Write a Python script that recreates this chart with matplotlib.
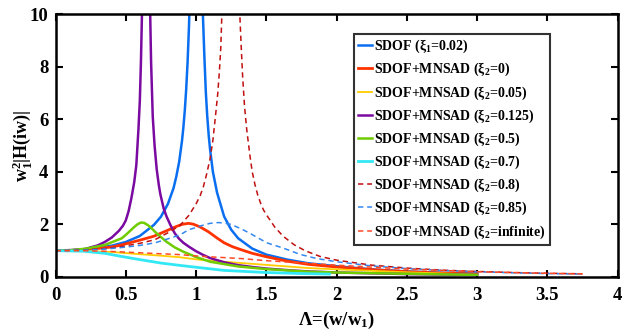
import matplotlib
matplotlib.use("Agg")
import matplotlib.pyplot as plt

plt.rcParams['font.family'] = ['Liberation Serif', 'DejaVu Serif']
plt.rcParams['font.weight'] = 'bold'
plt.rcParams['mathtext.fontset'] = 'custom'
plt.rcParams['mathtext.rm'] = 'Liberation Serif:bold'
plt.rcParams['mathtext.it'] = 'Liberation Serif:bold'
plt.rcParams['mathtext.bf'] = 'Liberation Serif:bold'

# ---- data ----
x_sdof = [0, 0.2, 0.4, 0.5, 0.6, 0.7, 0.75, 0.8, 0.84, 0.86, 0.88, 0.9, 0.91, 0.92, 0.93,
          0.94, 0.95, 0.96, 0.98, 1.0, 1.02, 1.04, 1.05, 1.06, 1.07, 1.08, 1.09, 1.1, 1.12,
          1.15, 1.2, 1.25, 1.3, 1.4, 1.5, 1.65, 1.8, 2.0, 2.25, 2.5, 2.75, 3.0]
y_sdof = [1, 1.04, 1.19, 1.33, 1.56, 1.98, 2.29, 2.78, 3.38, 3.83, 4.38, 5.17, 5.69, 6.33, 7.14,
          8.18, 9.56, 11.45, 17.9, 25, 17.9, 11.2, 9.8, 8.3, 7.0, 6.1, 5.4, 4.85, 4.0,
          3.2, 2.3, 1.8, 1.47, 1.08, 0.85, 0.66, 0.52, 0.41, 0.29, 0.21, 0.16, 0.13]

x_x0 = [0, 0.2, 0.4, 0.47, 0.6, 0.7, 0.8, 0.85, 0.9, 0.945, 0.98, 1.03, 1.088, 1.15, 1.2,
        1.26, 1.325, 1.4, 1.5, 1.65, 1.8, 2.0, 2.25, 2.5, 2.75, 3.0]
y_x0 = [1, 1.03, 1.14, 1.22, 1.4, 1.55, 1.78, 1.9, 2.0, 2.04, 2.01, 1.9, 1.72, 1.48, 1.3,
        1.15, 1.03, 0.9, 0.77, 0.6, 0.48, 0.38, 0.28, 0.2, 0.15, 0.11]

x_x005 = [0, 0.2, 0.4, 0.59, 0.75, 0.886, 1.0, 1.2, 1.5, 1.8, 2.0, 2.5, 3.0]
y_x005 = [1, 0.99, 0.95, 0.87, 0.81, 0.75, 0.67, 0.58, 0.46, 0.34, 0.29, 0.18, 0.09]

x_x0125 = [0, 0.1, 0.2, 0.3, 0.35, 0.4, 0.45, 0.48, 0.5, 0.52, 0.54, 0.56, 0.575, 0.59, 0.6,
           0.608, 0.616, 0.63, 0.645, 0.66, 0.672, 0.68, 0.692, 0.705, 0.72, 0.735, 0.746,
           0.77, 0.79, 0.82, 0.85, 0.88, 0.91, 0.95, 1.0, 1.05, 1.1, 1.2, 1.3, 1.4, 1.5,
           1.65, 1.8, 2.0, 2.25, 2.5, 2.75, 3.0]
y_x0125 = [1, 1.01, 1.05, 1.2, 1.33, 1.5, 1.75, 1.95, 2.15, 2.5, 3.0, 3.6, 4.25, 5.6, 6.7,
           8.2, 10.2, 16, 30, 16, 10.5, 8.2, 6.1, 5.0, 4.1, 3.5, 3.15,
           2.6, 2.3, 1.95, 1.65, 1.45, 1.3, 1.15, 0.98, 0.84, 0.72, 0.56, 0.45, 0.38, 0.32,
           0.26, 0.21, 0.17, 0.14, 0.11, 0.095, 0.08]

x_x05 = [0, 0.1, 0.233, 0.352, 0.471, 0.5, 0.53, 0.56, 0.585, 0.608, 0.63, 0.655, 0.68, 0.708,
         0.75, 0.79, 0.85, 0.91, 1.0, 1.1, 1.3, 1.5, 1.8, 2.0, 2.5, 3.0]
y_x05 = [1, 1.01, 1.09, 1.22, 1.47, 1.6, 1.75, 1.9, 2.01, 2.07, 2.06, 1.98, 1.87, 1.72,
         1.52, 1.34, 1.12, 0.96, 0.76, 0.58, 0.4, 0.3, 0.2, 0.17, 0.12, 0.08]

x_x07 = [0, 0.2, 0.35, 0.45, 0.59, 0.75, 0.886, 1.0, 1.2, 1.5, 1.75, 1.95]
y_x07 = [1, 0.98, 0.9, 0.8, 0.67, 0.53, 0.44, 0.37, 0.25, 0.17, 0.13, 0.11]

x_x08 = [0, 0.2, 0.35, 0.471, 0.6, 0.708, 0.8, 0.886, 0.95, 1.0, 1.03, 1.052, 1.075, 1.1,
         1.12, 1.14, 1.155, 1.166, 1.176, 1.185, 1.2, 1.22, 1.25, 1.28, 1.3, 1.313, 1.322,
         1.332, 1.345, 1.361, 1.384, 1.4, 1.42, 1.44, 1.46, 1.48, 1.503, 1.56, 1.62,
         1.7, 1.776, 1.883, 2.0, 2.25, 2.5, 2.75, 3.0, 3.25, 3.5, 3.75]
y_x08 = [1, 1.03, 1.08, 1.16, 1.28, 1.42, 1.68, 1.96, 2.35, 2.78, 3.1, 3.43, 3.9, 4.5,
         5.2, 6.2, 7.0, 7.8, 8.7, 10.2, 12.5, 17, 25, 17, 12, 9.8, 8.7,
         7.6, 6.5, 5.6, 4.6, 4.0, 3.5, 3.1, 2.8, 2.55, 2.35, 1.9, 1.55,
         1.22, 1.0, 0.78, 0.64, 0.45, 0.34, 0.26, 0.21, 0.17, 0.14, 0.12]

x_x085 = [0, 0.2, 0.35, 0.471, 0.6, 0.708, 0.8, 0.886, 0.945, 1.05, 1.1, 1.16, 1.2, 1.25,
          1.325, 1.384, 1.503, 1.62, 1.74, 1.86, 2.0, 2.25, 2.5, 2.75, 3.0, 3.25, 3.5, 3.75]
y_x085 = [1, 1.02, 1.06, 1.12, 1.2, 1.3, 1.45, 1.6, 1.79, 1.97, 2.04, 2.07, 2.05, 2.0,
          1.82, 1.66, 1.3, 1.1, 0.86, 0.7, 0.58, 0.42, 0.32, 0.25, 0.2, 0.16, 0.13, 0.11]

x_xinf = [0, 0.2, 0.4, 0.6, 0.886, 1.0, 1.088, 1.325, 1.5, 1.8, 2.0, 2.5, 3.0, 3.5, 3.75]
y_xinf = [1, 1.0, 0.97, 0.92, 0.85, 0.8, 0.77, 0.7, 0.62, 0.52, 0.45, 0.3, 0.2, 0.14, 0.12]

labels = ['SDOF (ξ$_1$=0.02)',
          'SDOF+MNSAD (ξ$_2$=0)',
          'SDOF+MNSAD (ξ$_2$=0.05)',
          'SDOF+MNSAD (ξ$_2$=0.125)',
          'SDOF+MNSAD (ξ$_2$=0.5)',
          'SDOF+MNSAD (ξ$_2$=0.7)',
          'SDOF+MNSAD (ξ$_2$=0.8)',
          'SDOF+MNSAD (ξ$_2$=0.85)',
          'SDOF+MNSAD (ξ$_2$=infinite)']
x_ticks = [0, 0.5, 1, 1.5, 2, 2.5, 3, 3.5, 4]
x_ticklabels = ['0', '0.5', '1', '1.5', '2', '2.5', '3', '3.5', '4']
y_ticks = [0, 2, 4, 6, 8, 10]

fig = plt.figure(figsize=(6.28, 3.34), dpi=100)
ax = fig.add_axes([0.0884, 0.1707, 0.895, 0.7873])

ax.plot(x_sdof, y_sdof, color='#0a6ef0', lw=1.8, label=labels[0])
ax.plot(x_x0, y_x0, color='#ff3300', lw=2.0, label=labels[1])
ax.plot(x_x005, y_x005, color='#ffcc00', lw=1.3, label=labels[2])
ax.plot(x_x0125, y_x0125, color='#7a0aa0', lw=1.8, label=labels[3])
ax.plot(x_x05, y_x05, color='#6fcc00', lw=1.8, label=labels[4])
ax.plot(x_x07, y_x07, color='#33e8f5', lw=2.0, label=labels[5])
ax.plot(x_x08, y_x08, color='#c01010', lw=1.1, ls=(0, (3.5, 2.5)), label=labels[6])
ax.plot(x_x085, y_x085, color='#3388f0', lw=1.1, ls=(0, (3.5, 2.5)), label=labels[7])
ax.plot(x_xinf, y_xinf, color='#ff4a26', lw=1.1, ls=(0, (3.5, 2.5)), label=labels[8])

ax.set_xlim(0, 4)
ax.set_ylim(0, 10)
ax.set_xticks(x_ticks)
ax.set_xticklabels(x_ticklabels)
ax.set_yticks(y_ticks)
ax.tick_params(direction='in', length=5, width=1.5, top=True, right=True,
               labelsize=13.5, pad=7)
ax.tick_params(axis='y', pad=5)
for lab in ax.get_xticklabels() + ax.get_yticklabels():
    lab.set_fontweight('bold')
for s in ax.spines.values():
    s.set_linewidth(1.8)

ax.set_xlabel('Λ=(w/w$_1$)', fontsize=13.5, fontweight='bold')
ax.xaxis.set_label_coords(0.5, -0.125)
ax.set_ylabel('w$_1^2$|H(iw)|', fontsize=13, fontweight='bold')
ax.yaxis.set_label_coords(-0.038, 0.5)

leg = ax.legend(loc='upper left', bbox_to_anchor=(0.531, 0.925),
                prop={'weight': 'bold', 'size': 10}, frameon=True, fancybox=False,
                handlelength=1.0, handletextpad=0.15, borderpad=0.3,
                labelspacing=0.42, borderaxespad=0)
leg.get_frame().set_edgecolor('black')
leg.get_frame().set_linewidth(1.5)

fig.savefig('out.png', dpi=100)
